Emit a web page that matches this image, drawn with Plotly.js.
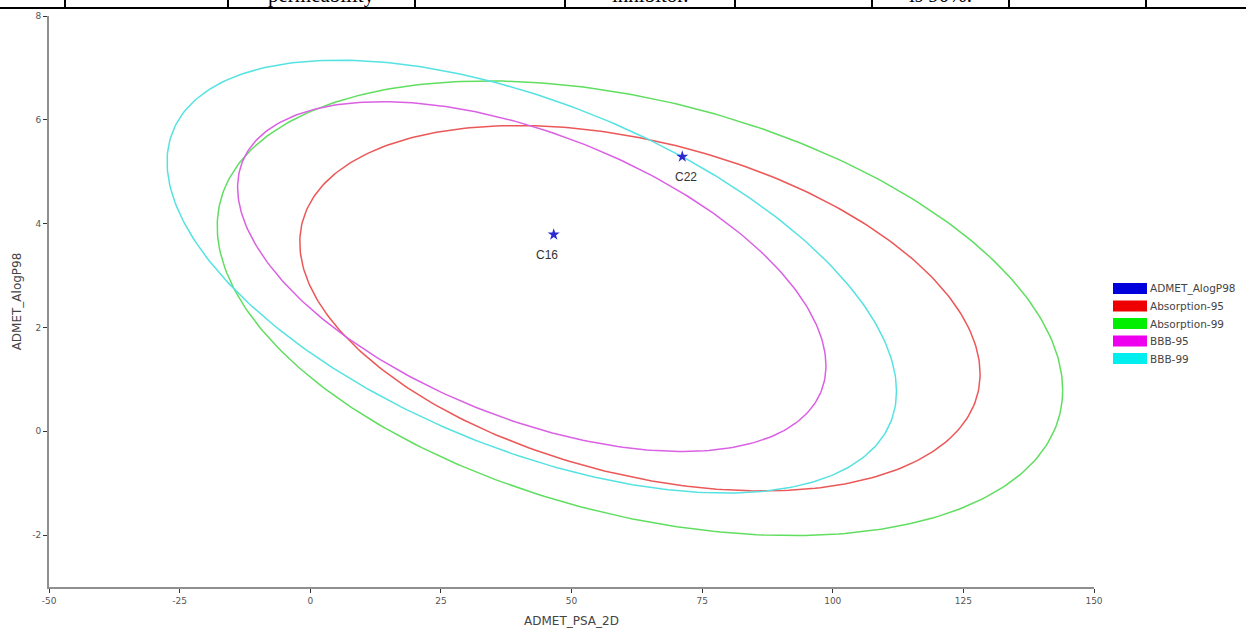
<!DOCTYPE html>
<html>
<head>
<meta charset="utf-8">
<script src="https://cdn.plot.ly/plotly-3.0.1.min.js"></script>
<style>
  html, body { margin: 0; padding: 0; background: #ffffff; }
  #chart { width: 1246px; height: 632px; }
</style>
</head>
<body>
<div id="chart"></div>
<script>
// ---------------- data ----------------
const compoundNames = ['C16', 'C22'];
const compoundPSA = [46.6, 71.2];
const compoundAlogP = [3.79, 5.29];
const pointSeriesName = 'ADMET_AlogP98';

// confidence ellipses (centre, half-extents along x / y, x-y correlation)
const ellipseNames = ['Absorption-95', 'Absorption-99', 'BBB-95', 'BBB-99'];
const ellipseCx = [63.1, 63.1, 42.4, 42.4];
const ellipseCy = [2.37, 2.37, 2.98, 2.98];
const ellipseHx = [65.1, 80.9, 56.3, 69.8];
const ellipseHy = [3.52, 4.38, 3.37, 4.17];
const ellipseR = [-0.36, -0.36, -0.51, -0.53];

const xTickVals = [-50, -25, 0, 25, 50, 75, 100, 125, 150];
const yTickVals = [-2, 0, 2, 4, 6, 8];

// fragment of the table above the figure
const tableTexts = ['permeability', 'inhibitor.', 'is 90%.'];

// ---------------- styles ----------------
const ellipseColors = ['rgb(236,88,88)', 'rgb(96,222,96)', 'rgb(218,96,228)', 'rgb(86,226,226)'];
const pointColor = '#2a2ad0';
const legendColors = ['#0000dd', '#ee0000', '#00ee00', '#ee00ee', '#00eeee'];

const W = 1246, H = 632;
const M = { l: 49, r: 152, t: 16, b: 45 };
const PW = W - M.l - M.r, PH = H - M.t - M.b;
const px2x = p => (p - M.l) / PW;
const px2y = p => (H - M.b - p) / PH;

// ---------------- traces ----------------
const traces = [];
for (let i = 0; i < ellipseNames.length; i++) {
  const xs = [], ys = [];
  const s = Math.sqrt(1 - ellipseR[i] * ellipseR[i]);
  for (let k = 0; k <= 360; k++) {
    const t = k * Math.PI / 180;
    xs.push(ellipseCx[i] + ellipseHx[i] * Math.cos(t));
    ys.push(ellipseCy[i] + ellipseHy[i] * (ellipseR[i] * Math.cos(t) + s * Math.sin(t)));
  }
  traces.push({
    x: xs, y: ys, type: 'scatter', mode: 'lines', name: ellipseNames[i],
    line: { color: ellipseColors[i], width: 1.5 }, showlegend: false, hoverinfo: 'skip'
  });
}
traces.push({
  x: compoundPSA, y: compoundAlogP, type: 'scatter', mode: 'markers', name: pointSeriesName,
  marker: { symbol: 'star', size: 9, color: pointColor }, showlegend: false
});

// ---------------- annotations & shapes ----------------
const annotations = [];
const shapes = [];

const labelShiftX = [-7, 4];
compoundNames.forEach((n, i) => {
  annotations.push({
    x: compoundPSA[i], y: compoundAlogP[i], xref: 'x', yref: 'y', text: n, showarrow: false,
    yshift: -20, xshift: labelShiftX[i], font: { family: 'Liberation Sans, Arial, sans-serif', size: 12, color: '#333' }
  });
});

// manual legend
const legendNames = [pointSeriesName].concat(ellipseNames);
const legTop = [283, 300.5, 318, 335.5, 353];
legendNames.forEach((n, i) => {
  shapes.push({
    type: 'rect', xref: 'paper', yref: 'paper',
    x0: px2x(1113), x1: px2x(1147), y0: px2y(legTop[i]), y1: px2y(legTop[i] + 11),
    fillcolor: legendColors[i], line: { width: 0 }
  });
  annotations.push({
    xref: 'paper', yref: 'paper', x: px2x(1148), y: px2y(legTop[i] + 5.5), xanchor: 'left', yanchor: 'middle',
    text: n, showarrow: false, font: { family: 'DejaVu Sans, sans-serif', size: 10.5, color: '#444' }
  });
});

// table fragment at the top
shapes.push({ type: 'line', xref: 'paper', yref: 'paper', x0: px2x(0), x1: px2x(W), y0: px2y(8), y1: px2y(8),
  line: { color: '#000', width: 2 } });
[65, 228, 415, 565, 735, 872, 1009, 1146].forEach(p => {
  shapes.push({ type: 'line', xref: 'paper', yref: 'paper', x0: px2x(p), x1: px2x(p), y0: px2y(-2), y1: px2y(8),
    line: { color: '#000', width: 2 } });
});
const tableTextX = [321, 650, 940];
tableTexts.forEach((t, i) => {
  annotations.push({
    xref: 'paper', yref: 'paper', x: px2x(tableTextX[i]), y: px2y(9), xanchor: 'center', yanchor: 'bottom',
    text: t, showarrow: false, font: { family: 'Liberation Serif, Times New Roman, serif', size: 21, color: '#000' }
  });
});

// ---------------- layout ----------------
const axisCommon = {
  showgrid: false, zeroline: false, showline: true, linecolor: '#8f8f8f', linewidth: 2,
  ticks: 'outside', ticklen: 4, tickwidth: 1, tickcolor: '#333',
  tickfont: { family: 'DejaVu Sans, sans-serif', size: 9, color: '#555' },
  fixedrange: true
};

const layout = {
  width: W, height: H,
  margin: M,
  paper_bgcolor: '#fff', plot_bgcolor: '#fff',
  showlegend: false,
  xaxis: Object.assign({}, axisCommon, {
    range: [-50, 150], tickvals: xTickVals, ticktext: xTickVals.map(String),
    title: { text: 'ADMET_PSA_2D', standoff: 12, font: { family: 'DejaVu Sans, sans-serif', size: 12, color: '#444' } }
  }),
  yaxis: Object.assign({}, axisCommon, {
    range: [-3, 8], tickvals: yTickVals, ticktext: yTickVals.map(String),
    title: { text: 'ADMET_AlogP98', standoff: 8, font: { family: 'DejaVu Sans, sans-serif', size: 12, color: '#444' } }
  }),
  annotations: annotations,
  shapes: shapes
};

Plotly.newPlot('chart', traces, layout, { displayModeBar: false, staticPlot: true });
</script>
</body>
</html>
